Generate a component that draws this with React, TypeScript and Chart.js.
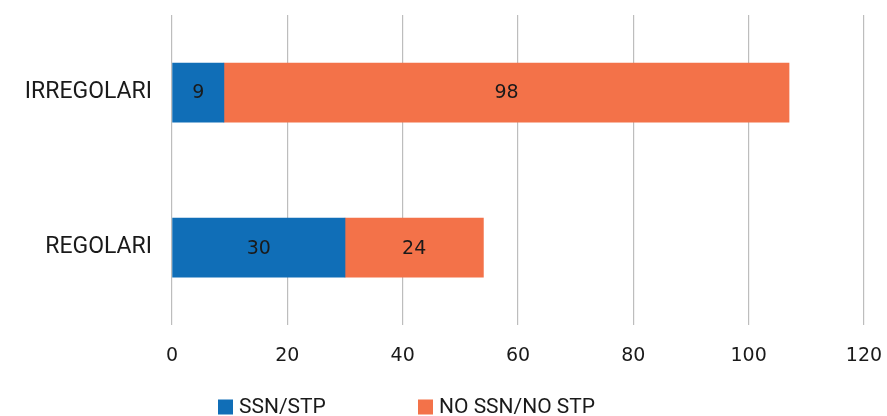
import React, { useEffect, useRef } from "react";
import { Chart, registerables } from "chart.js";

Chart.register(...registerables);

const categories = ["IRREGOLARI", "REGOLARI"];
const ssnStp = [9, 30];
const noSsnStp = [98, 24];
const seriesNames = ["SSN/STP", "NO SSN/NO STP"];
const seriesColors = ["#106EB7", "#F37249"];
const xTicksMax = 120;
const xTicksStep = 20;

const LABEL_FONT = "Roboto, 'Liberation Sans', sans-serif";
const NUM_FONT = "'DejaVu Sans', sans-serif";
const TEXT_COLOR = "#1a1a1a";

const valueLabels = {
  id: "valueLabels",
  afterDatasetsDraw(chart: any) {
    const ctx = chart.ctx;
    ctx.save();
    ctx.font = `19px ${NUM_FONT}`;
    ctx.fillStyle = TEXT_COLOR;
    ctx.textAlign = "center";
    ctx.textBaseline = "middle";
    chart.data.datasets.forEach((ds: any, i: number) => {
      const meta = chart.getDatasetMeta(i);
      meta.data.forEach((bar: any, j: number) => {
        const cx = (bar.x + bar.base) / 2;
        ctx.fillText(String(ds.data[j]), cx, bar.y + 1);
      });
    });
    ctx.restore();
  },
};

// Excel-like legend: fixed item pitch, drawn under the axis
const customLegend = {
  id: "customLegend",
  afterDraw(chart: any) {
    const ctx = chart.ctx;
    const box = 15;
    const pitch = 200;
    const startX = chart.chartArea.left + 46;
    const cy = chart.height - 9;
    ctx.save();
    ctx.font = `21px ${LABEL_FONT}`;
    ctx.textBaseline = "middle";
    ctx.textAlign = "left";
    chart.data.datasets.forEach((ds: any, i: number) => {
      const x = startX + i * pitch;
      ctx.fillStyle = ds.backgroundColor;
      ctx.fillRect(x, cy - box / 2, box, box);
      ctx.fillStyle = TEXT_COLOR;
      ctx.fillText(ds.label, x + box + 6, cy + 1);
    });
    ctx.restore();
  },
};

export default function App() {
  const ref = useRef<HTMLCanvasElement>(null);
  useEffect(() => {
    const chart = new Chart(ref.current!, {
      type: "bar",
      data: {
        labels: categories,
        datasets: [
          { label: seriesNames[0], data: ssnStp, backgroundColor: seriesColors[0], barThickness: 59 },
          { label: seriesNames[1], data: noSsnStp, backgroundColor: seriesColors[1], barThickness: 59 },
        ],
      },
      options: {
        indexAxis: "y",
        animation: false,
        responsive: true,
        maintainAspectRatio: false,
        layout: { padding: { top: 15, right: 0, left: 0, bottom: 30 } },
        plugins: {
          tooltip: { enabled: false },
          legend: { display: false },
        },
        scales: {
          x: {
            stacked: true,
            min: 0,
            max: xTicksMax,
            ticks: {
              stepSize: xTicksStep,
              font: { family: NUM_FONT, size: 19 },
              color: TEXT_COLOR,
              padding: 19,
            },
            grid: { color: "#BDBDBD", lineWidth: 1.2, drawTicks: false },
            border: { display: false },
            afterFit: (s: any) => {
              s.paddingLeft = 0;
              s.paddingRight = 23;
            },
          },
          y: {
            stacked: true,
            ticks: {
              font: { family: LABEL_FONT, size: 23 },
              color: TEXT_COLOR,
              padding: 20,
            },
            grid: { display: false, drawTicks: false },
            border: { display: false },
            afterFit: (s: any) => {
              s.width = 172;
              s.paddingTop = 0;
              s.paddingBottom = 0;
            },
          },
        },
      },
      plugins: [valueLabels, customLegend],
    });
    return () => chart.destroy();
  }, []);
  return (
    <div style={{ position: "fixed", left: 0, top: 0, width: 887, height: 416 }}>
      <canvas ref={ref} />
    </div>
  );
}
